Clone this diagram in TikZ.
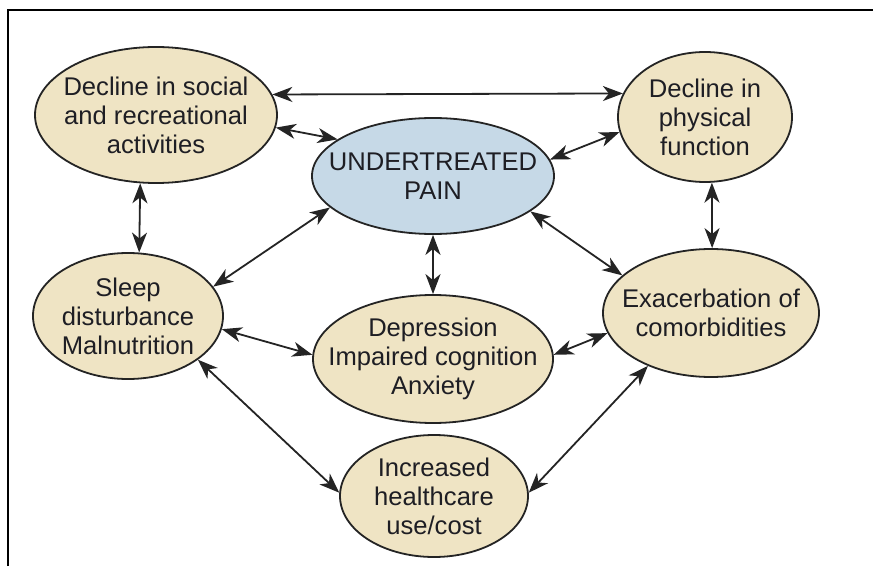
\documentclass[tikz,border=0pt]{standalone}
\usepackage{fontspec}
\setmainfont{Liberation Sans}
\usetikzlibrary{shapes.geometric,arrows.meta}
\definecolor{tan}{RGB}{239,228,196}
\definecolor{paleblue}{RGB}{198,217,231}
\definecolor{ink}{RGB}{30,30,36}
\definecolor{edge}{RGB}{36,36,36}
\begin{document}
\begin{tikzpicture}[x=1pt,y=1pt,
  bubble/.style={ellipse,draw=edge,line width=1.8pt,fill=tan,inner sep=0pt},
  caption/.style={align=center,text=ink,inner sep=0pt,font=\fontsize{25.6}{29}\selectfont},
  link/.style={line width=1.8pt,draw=edge,{Stealth[length=20pt,width=15pt,inset=6pt]}-{Stealth[length=20pt,width=15pt,inset=6pt]}}]
\useasboundingbox (0,0) rectangle (873,566);
\fill[white] (0,0) rectangle (873,566);
% outer frame (open on the right and bottom)
\draw[line width=1.8pt] (8,0) -- (8,556) -- (873,556);

% factors: the ellipse outlines, then their labels
\node[bubble,minimum width=242pt,minimum height=136pt] (soc) at (156,451) {};
\node[bubble,minimum width=174pt,minimum height=130pt] (phys) at (705,449) {};
\node[bubble,fill=paleblue,minimum width=242pt,minimum height=116pt] (pain) at (433,390) {};
\node[bubble,minimum width=190pt,minimum height=126pt] (sleep) at (128,250) {};
\node[bubble,minimum width=216pt,minimum height=128pt] (exac) at (711,253) {};
\node[bubble,minimum width=240pt,minimum height=128pt] (dep) at (433,207) {};
\node[bubble,minimum width=188pt,minimum height=122pt] (inc) at (434,70) {};

\node[caption] (soc-t) at (soc.center) {Decline in social\\and recreational\\activities};
\node[caption] (phys-t) at (phys.center) {Decline in\\physical\\function};
\node[caption] (pain-t) at (pain.center) {UNDERTREATED\\PAIN};
\node[caption] (sleep-t) at (sleep.center) {Sleep\\disturbance\\Malnutrition};
\node[caption] (exac-t) at (exac.center) {Exacerbation of\\comorbidities};
\node[caption] (dep-t) at (dep.center) {Depression\\Impaired cognition\\Anxiety};
\node[caption] (inc-t) at (inc.center) {Increased\\healthcare\\use/cost};

% two-way influences
\draw[link] (soc.10) -- (phys.164);
\draw[link] (soc.-6) -- (pain.159);
\draw[link] (phys.190) -- (pain.8);
\draw[link] (soc.257) -- (sleep.80);
\draw[link] (phys.276) -- (exac.89);
\draw[link] (pain.197) -- (sleep.19);
\draw[link] (pain.south) -- (dep.north);
\draw[link] (pain.340) -- (exac.157);
\draw[link] (sleep.-8) -- (dep.178);
\draw[link] (dep.2) -- (exac.191);
\draw[link] (sleep.-32) -- (inc.178);
\draw[link] (exac.220) -- (inc.2);
\end{tikzpicture}
\end{document}
